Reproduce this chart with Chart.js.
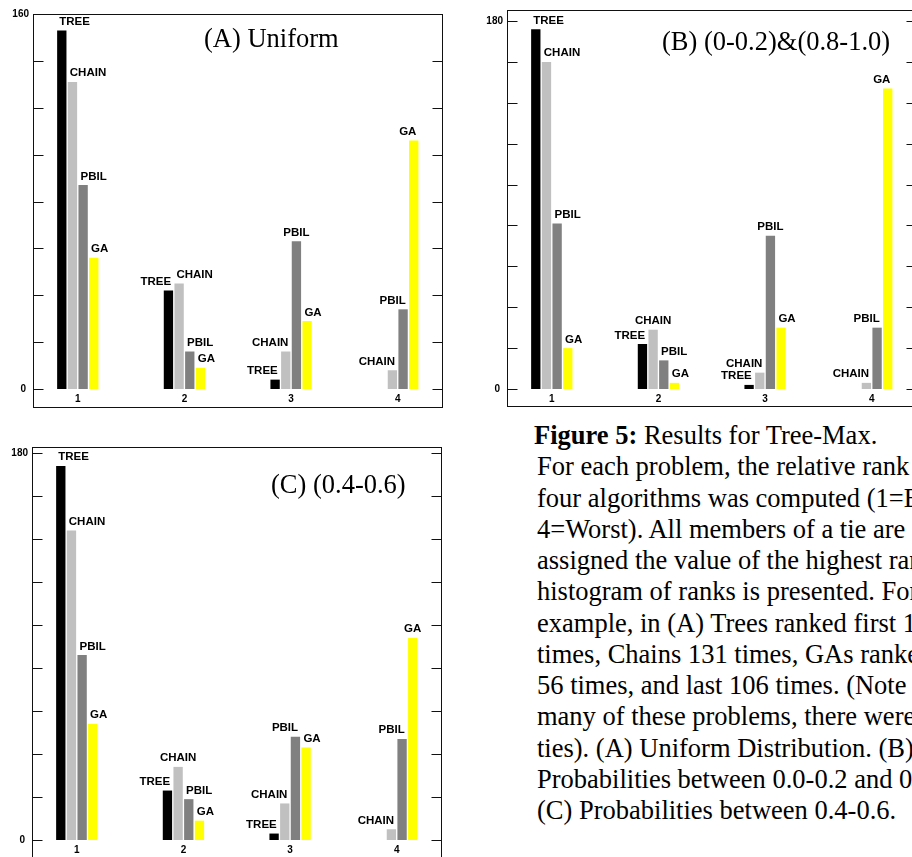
<!DOCTYPE html>
<html>
<head>
<meta charset="utf-8">
<script src="https://cdn.jsdelivr.net/npm/chart.js@4.4.1/dist/chart.umd.min.js"></script>
<style>
  html, body { margin: 0; padding: 0; background: #fff; }
  body { width: 912px; height: 857px; overflow: hidden; position: relative; }
  canvas { position: absolute; }
  .title {
    position: absolute; white-space: nowrap; line-height: 1;
    font-family: "Liberation Serif", "Times New Roman", serif; font-size: 26.5px; color: #000;
  }
  #caption {
    position: absolute; left: 537px; top: 420px; white-space: nowrap;
    font-family: "Liberation Serif", "Times New Roman", serif; font-size: 26.5px;
    line-height: 31.25px; color: #000;
  }
  #caption .first { position: relative; left: -3px; }
</style>
</head>
<body>
<canvas id="panelA" width="450" height="415" style="left:0;top:0"></canvas>
<canvas id="panelB" width="470" height="415" style="left:455px;top:0"></canvas>
<canvas id="panelC" width="450" height="430" style="left:0;top:430px"></canvas>

<div class="title" style="left:204px;top:24.5px">(A) Uniform</div>
<div class="title" style="left:662px;top:28px">(B) (0-0.2)&amp;(0.8-1.0)</div>
<div class="title" style="left:271px;top:471px">(C) (0.4-0.6)</div>

<div id="caption">
<span class="first"><b>Figure 5:</b> Results for Tree-Max.</span><br>
For each problem, the relative rank of the<br>
four algorithms was computed (1=Best,<br>
4=Worst). All members of a tie are<br>
assigned the value of the highest rank. The<br>
histogram of ranks is presented. For<br>
example, in (A) Trees ranked first 153<br>
times, Chains 131 times, GAs ranked first<br>
56 times, and last 106 times. (Note that in<br>
many of these problems, there were<br>
ties). (A) Uniform Distribution. (B)<br>
Probabilities between 0.0-0.2 and 0.8-1.0.<br>
(C) Probabilities between 0.4-0.6.
</div>

<script>
const ranks = [1, 2, 3, 4]
const algorithms = ['TREE', 'CHAIN', 'PBIL', 'GA']
const colors = ['#000000', '#c0c0c0', '#808080', '#ffff00']

// how many times each algorithm got rank 1..4
// (A) uniform
const uniformTree = [153, 42, 4, 0]
const uniformChain = [131, 45, 16, 8]
const uniformPbil = [87, 16, 63, 34]
const uniformGa = [56, 9, 29, 106]
// (B) (0-0.2)&(0.8-1.0)
const extremeTree = [176, 22, 2, 0]
const extremeChain = [160, 29, 8, 3]
const extremePbil = [81, 14, 75, 30]
const extremeGa = [20, 3, 30, 147]
// (C) (0.4-0.6)
const middleTree = [174, 23, 3, 0]
const middleChain = [144, 34, 17, 5]
const middlePbil = [86, 19, 48, 47]
const middleGa = [54, 9, 43, 94]

const yStep = 20

// x range of the linear rank axis, so the 4 groups sit where they do in the figure
const X_MIN = 0.58
const X_MAX = 4.415

const FONT = '"Liberation Sans", Arial, sans-serif'

// frame, inward ticks on both sides, tick labels
const panelFrame = {
    id: 'panelFrame',
    beforeDatasetsDraw(chart, args, opts) {
        const { ctx, chartArea: a, scales: { x, y } } = chart
        const L = Math.round(a.left) + 0.5
        const R = Math.round(a.right) + 0.5
        const T = Math.round(a.top - opts.padTop) + 0.5
        const B = Math.round(a.bottom + opts.padBottom) + 0.5
        ctx.save()
        ctx.strokeStyle = '#111'
        ctx.lineWidth = 1
        ctx.strokeRect(L, T, R - L, B - T)
        ctx.beginPath()
        for (let v = y.min; v <= y.max; v += yStep) {
            const py = Math.round(y.getPixelForValue(v)) + 0.5
            ctx.moveTo(L, py); ctx.lineTo(L + 10, py)
            ctx.moveTo(R - 10, py); ctx.lineTo(R, py)
        }
        ctx.stroke()

        ctx.fillStyle = '#000'
        ctx.font = 'bold 10px ' + FONT
        ctx.textAlign = 'right'
        ctx.textBaseline = 'middle'
        ctx.fillText(String(y.max), L - 4.5, y.getPixelForValue(y.max))
        ctx.fillText('0', L - 7.5, y.getPixelForValue(0))

        ctx.textAlign = 'center'
        ranks.forEach(r => {
            ctx.fillText(String(r), x.getPixelForValue(r), y.getPixelForValue(0) + 10)
        })
        ctx.restore()
    }
}

// algorithm name above each bar; l = start at bar left, r = end at bar right, c = centred
const barLabels = {
    id: 'barLabels',
    afterDatasetsDraw(chart, args, opts) {
        const ctx = chart.ctx
        ctx.save()
        ctx.font = 'bold 11.5px ' + FONT
        ctx.fillStyle = '#000'
        ctx.textBaseline = 'alphabetic'
        chart.data.datasets.forEach((ds, d) => {
            chart.getDatasetMeta(d).data.forEach((bar, i) => {
                if (!ds.data[i].y) return
                const a = opts.align[i][d]
                const half = bar.width / 2
                let x = bar.x
                ctx.textAlign = 'center'
                if (a === 'l') { x = bar.x - half + 2; ctx.textAlign = 'left' }
                if (a === 'r') { x = bar.x + half - 2; ctx.textAlign = 'right' }
                ctx.fillText(ds.label, x, bar.y - 5.5)
            })
        })
        ctx.restore()
    }
}

function makePanel(id, series, yMax, padding, frame, align) {
    const ctx = document.getElementById(id).getContext('2d')
    return new Chart(ctx, {
        type: 'bar',
        data: {
            datasets: algorithms.map((name, k) => ({
                label: name,
                data: ranks.map((r, i) => ({ x: r, y: series[k][i] })),
                backgroundColor: colors[k],
                borderWidth: 0,
                categoryPercentage: 0.4,
                barPercentage: 0.875
            }))
        },
        options: {
            responsive: false,
            animation: false,
            layout: { padding: padding },
            plugins: {
                legend: { display: false },
                tooltip: { enabled: false },
                panelFrame: frame,
                barLabels: { align: align }
            },
            scales: {
                x: {
                    type: 'linear',
                    display: false,
                    offset: false,
                    min: X_MIN,
                    max: X_MAX,
                    afterBuildTicks: s => { s.ticks = ranks.map(v => ({ value: v })) }
                },
                y: { display: false, min: 0, max: yMax }
            }
        },
        plugins: [panelFrame, barLabels]
    })
}

makePanel('panelA', [uniformTree, uniformChain, uniformPbil, uniformGa], 160,
    { left: 33, top: 14, right: 8, bottom: 26 }, { padTop: 0, padBottom: 18 },
    ['llll', 'rlll', 'rrcl', 'rrrr'])

makePanel('panelB', [extremeTree, extremeChain, extremePbil, extremeGa], 180,
    { left: 52, top: 21, right: 9, bottom: 26 }, { padTop: 11, padBottom: 17 },
    ['llll', 'rcll', 'rrcl', 'rrrr'])

makePanel('panelC', [middleTree, middleChain, middlePbil, middleGa], 180,
    { left: 32, top: 23, right: 9, bottom: 20 }, { padTop: 6, padBottom: 18 },
    ['llll', 'rcll', 'rrrl', 'rrrc'])
</script>
</body>
</html>
